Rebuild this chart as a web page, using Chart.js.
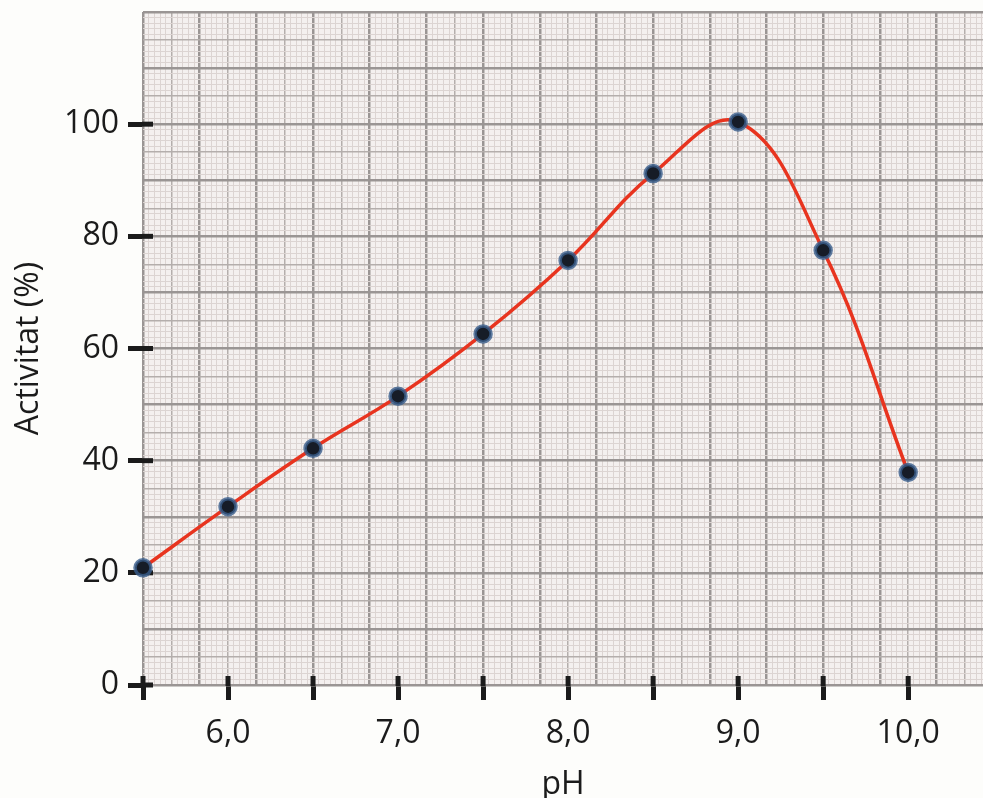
<!DOCTYPE html>
<html>
<head>
<meta charset="utf-8">
<title>Activitat vs pH</title>
<script src="https://cdn.jsdelivr.net/npm/chart.js@4.4.1/dist/chart.umd.min.js"></script>
<style>
  html, body { margin: 0; padding: 0; background: #fdfdfb; }
  #wrap { width: 983px; height: 798px; }
</style>
</head>
<body>
<div id="wrap"><canvas id="phChart"></canvas></div>
<script>
// measured points
const phValues = [5.5, 6.0, 6.5, 7.0, 7.5, 8.0, 8.5, 9.0, 9.5, 10.0];
const activityValues = [20.9, 31.8, 42.2, 51.5, 62.6, 75.7, 91.2, 100.4, 77.5, 37.9];

// axis ticks
const xTickValues = [5.5, 6.0, 6.5, 7.0, 7.5, 8.0, 8.5, 9.0, 9.5, 10.0];
const yTickValues = [0, 20, 40, 60, 80, 100];
const xRange = [5.5, 10.44];
const yRange = [0, 120];

// graph paper: fine squares of 1/30 pH and 1 %
const fineX = 30;

const labelFont = { family: 'Open Sans', size: 32 };
const inkColor = '#1b1b1b';

function paperColor(ctx) {
  const i = ctx.tick.value;
  if (i % 10 === 0) return '#9a9594';
  if (i % 5 === 0) return '#b4aeac';
  return '#dcd4d2';
}
function paperWidth(ctx) {
  const i = ctx.tick.value;
  if (i % 10 === 0) return 2.5;
  if (i % 5 === 0) return 1.5;
  return 1;
}
function integerTicks(scale) {
  const ticks = [];
  for (let i = 0; i <= Math.floor(scale.max + 1e-9); i++) ticks.push({ value: i });
  scale.ticks = ticks;
}
// keep the plot area edge to edge, no room for overhanging labels
function noPadding(s) {
  s.paddingTop = 0;
  s.paddingBottom = 0;
  s.paddingLeft = 0;
  s.paddingRight = 0;
}

// background of the paper
const paperBackground = {
  id: 'paperBackground',
  beforeDraw(chart) {
    const { ctx, chartArea: a } = chart;
    ctx.save();
    ctx.fillStyle = '#f4f0ef';
    ctx.fillRect(a.left, a.top, a.right - a.left, a.bottom - a.top);
    ctx.restore();
  }
};

// the part of each tick mark that reaches into the plot
const innerTicks = {
  id: 'innerTicks',
  beforeDatasetsDraw(chart) {
    const { ctx, chartArea: a, scales } = chart;
    ctx.save();
    ctx.strokeStyle = inkColor;
    ctx.lineWidth = 5;
    scales.x.ticks.forEach(t => {
      const px = scales.x.getPixelForValue(t.value);
      ctx.beginPath();
      ctx.moveTo(px, a.bottom + 1);
      ctx.lineTo(px, a.bottom - 9);
      ctx.stroke();
    });
    scales.y.ticks.forEach(t => {
      const py = scales.y.getPixelForValue(t.value);
      ctx.beginPath();
      ctx.moveTo(a.left - 1, py);
      ctx.lineTo(a.left + 10, py);
      ctx.stroke();
    });
    ctx.restore();
  }
};

const ctx = document.getElementById('phChart').getContext('2d');

new Chart(ctx, {
  type: 'line',
  data: {
    datasets: [{
      label: 'Activitat',
      data: phValues.map((x, i) => ({ x: x, y: activityValues[i] })),
      borderColor: '#e8341f',
      borderWidth: 3.5,
      tension: 0.4,
      pointRadius: 8,
      pointBackgroundColor: '#161c27',
      pointBorderColor: 'rgba(58, 94, 140, 0.8)',
      pointBorderWidth: 3.5,
      clip: false
    }]
  },
  options: {
    responsive: true,
    maintainAspectRatio: false,
    animation: false,
    layout: { autoPadding: false, padding: { top: 12, right: 0, left: 0, bottom: 0 } },
    plugins: {
      legend: { display: false },
      tooltip: { enabled: false }
    },
    scales: {
      x: {
        type: 'linear',
        position: 'bottom',
        min: xRange[0],
        max: xRange[1],
        afterBuildTicks: s => { s.ticks = xTickValues.map(v => ({ value: v })); },
        afterFit: s => { s.height = 113; noPadding(s); },
        border: { display: false },
        grid: {
          drawOnChartArea: false,
          drawTicks: true,
          tickLength: 15,
          tickWidth: 5,
          tickColor: inkColor
        },
        ticks: {
          autoSkip: false,
          maxRotation: 0,
          padding: 15,
          color: inkColor,
          font: labelFont,
          callback: v => (Math.abs(v % 1) < 1e-9 ? v.toFixed(1).replace('.', ',') : '')
        },
        title: {
          display: true,
          text: 'pH',
          color: inkColor,
          font: { family: 'Open Sans', size: 32, lineHeight: 0.8 },
          padding: { top: 0, bottom: 0 }
        }
      },
      y: {
        type: 'linear',
        position: 'left',
        min: yRange[0],
        max: yRange[1],
        afterBuildTicks: s => { s.ticks = yTickValues.map(v => ({ value: v })); },
        afterFit: s => { s.width = 143; noPadding(s); },
        border: { display: false },
        grid: {
          drawOnChartArea: false,
          drawTicks: true,
          tickLength: 15,
          tickWidth: 5,
          tickColor: inkColor
        },
        ticks: {
          padding: 9,
          color: inkColor,
          font: labelFont
        },
        title: {
          display: true,
          text: 'Activitat (%)',
          color: inkColor,
          font: labelFont,
          padding: { top: 10, bottom: 0 }
        }
      },
      xPaper: {
        type: 'linear',
        position: 'top',
        min: 0,
        max: (xRange[1] - xRange[0]) * fineX,
        afterBuildTicks: integerTicks,
        afterFit: s => { s.height = 0; noPadding(s); },
        border: { display: false },
        grid: { color: paperColor, lineWidth: paperWidth, drawTicks: false },
        ticks: { display: false }
      },
      yPaper: {
        type: 'linear',
        position: 'right',
        min: yRange[0],
        max: yRange[1],
        afterBuildTicks: integerTicks,
        afterFit: s => { s.width = 0; noPadding(s); },
        border: { display: false },
        grid: { color: paperColor, lineWidth: paperWidth, drawTicks: false },
        ticks: { display: false }
      }
    }
  },
  plugins: [paperBackground, innerTicks]
});
</script>
</body>
</html>
